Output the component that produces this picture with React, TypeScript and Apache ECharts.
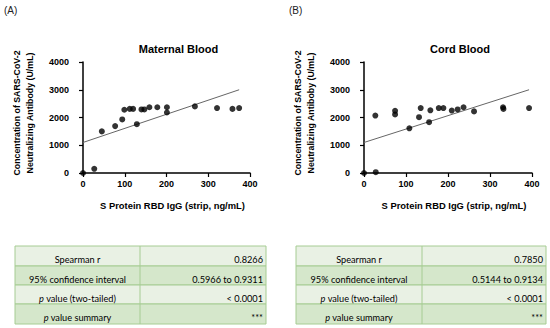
import React, { useEffect, useRef } from "react";
import * as echarts from "echarts";

const maternalX = [0, 27, 45, 77, 94, 99, 112, 120, 129, 140, 147, 159, 178, 201, 201, 268, 321, 358, 374];
const maternalY = [0, 150, 1500, 1690, 1930, 2280, 2310, 2310, 1760, 2290, 2290, 2370, 2370, 2370, 2180, 2400, 2340, 2310, 2340];
const cordX = [0, 28, 27, 74, 74, 108, 131, 135, 155, 158, 178, 189, 209, 223, 237, 262, 331, 332, 393];
const cordY = [0, 30, 2070, 2240, 2110, 1610, 2010, 2340, 1830, 2260, 2340, 2340, 2250, 2290, 2370, 2220, 2370, 2310, 2340];
const maternalFit = [[0, 1100], [374, 3000]];
const cordFit = [[0, 1100], [393, 3000]];

const xTicks = [0, 100, 200, 300, 400];
const yTicks = [0, 1000, 2000, 3000, 4000];

const rowLabels = ["Spearman r", "95% confidence interval", "{i|p} value (two-tailed)", "{i|p} value summary"];
const maternalStats = ["0.8266", "0.5966 to 0.9311", "< 0.0001", "***"];
const cordStats = ["0.7850", "0.5144 to 0.9134", "< 0.0001", "***"];

const panels = [
  { tag: "(A)", title: "Maternal Blood", yName2: "Neutralizing Antibody (U/mL)", xs: maternalX, ys: maternalY, fit: maternalFit, stats: maternalStats },
  { tag: "(B)", title: "Cord Blood", yName2: "Neutralizing Antiboby (U/mL)", xs: cordX, ys: cordY, fit: cordFit, stats: cordStats },
];

const AX = "'Liberation Sans', Arial, sans-serif";
const TB = "'Lato', 'Carlito', sans-serif";

export default function App() {
  const ref = useRef<HTMLDivElement>(null);
  useEffect(() => {
    if (!ref.current) return;
    const chart = echarts.init(ref.current, undefined, { renderer: "svg" });
    const gridLeft = [83, 364];
    const gridW = [167, 168];
    const tableLeft = [15, 296];
    const tableDiv = [140, 422];
    const tableRight = [266, 546];
    const rowB = [246, 266, 285, 304, 324];
    const graphic: any[] = [];
    panels.forEach((p, k) => {
      const gl = gridLeft[k];
      graphic.push({ type: "text", left: k === 0 ? 4 : 289, top: 5, style: { text: p.tag, font: `10px ${AX}`, fill: "#222" } });
      graphic.push({ type: "text", x: gl - 66, y: 113, rotation: Math.PI / 2, style: { text: "Concentration of SARS-CoV-2", font: `bold 8.8px ${AX}`, fill: "#000", align: "center", verticalAlign: "middle" } });
      graphic.push({ type: "text", x: gl - 53, y: 113, rotation: Math.PI / 2, style: { text: p.yName2, font: `bold 8.8px ${AX}`, fill: "#000", align: "center", verticalAlign: "middle" } });
      graphic.push({ type: "text", x: gl + gridW[k] / 2 + 6, y: 205, style: { text: "S Protein RBD IgG (strip, ng/mL)", font: `bold 9.4px ${AX}`, fill: "#000", align: "center", verticalAlign: "middle" } });
      // table
      for (let r = 0; r < 4; r++) {
        const fillC = r % 2 === 0 ? "#e9f1e4" : "#d5e7cb";
        graphic.push({ type: "rect", shape: { x: tableLeft[k], y: rowB[r], width: tableRight[k] - tableLeft[k], height: rowB[r + 1] - rowB[r] }, style: { fill: fillC, stroke: "#a6cc93", lineWidth: 1 } });
      }
      graphic.push({ type: "line", shape: { x1: tableDiv[k], y1: rowB[0], x2: tableDiv[k], y2: rowB[4] }, style: { stroke: "#a6cc93", lineWidth: 1 } });
      for (let r = 0; r < 4; r++) {
        const cy = (rowB[r] + rowB[r + 1]) / 2 + 3.5;
        graphic.push({ type: "text", x: (tableLeft[k] + tableDiv[k]) / 2, y: cy, style: { text: rowLabels[r], font: `9.2px ${TB}`, fill: "#000", align: "center", verticalAlign: "middle", rich: { i: { fontStyle: "italic", fontFamily: TB, fontSize: 9.2, fill: "#000" } } } });
        graphic.push({ type: "text", x: tableRight[k] - 3, y: cy, style: { text: p.stats[r], font: `9.2px ${TB}`, fill: "#000", align: "right", verticalAlign: "middle" } });
      }
    });

    const option: any = {
      animation: false,
      backgroundColor: "#fff",
      title: panels.map((p, k) => ({
        text: p.title,
        left: gridLeft[k] + gridW[k] / 2 + 7,
        top: 38,
        textAlign: "center",
        textStyle: { fontFamily: AX, fontWeight: "bold", fontSize: 11, color: "#000" },
      })),
      grid: panels.map((p, k) => ({ left: gridLeft[k], top: 62, width: gridW[k], height: 111 })),
      xAxis: panels.map((p, k) => ({
        gridIndex: k, type: "value", min: xTicks[0], max: xTicks[xTicks.length - 1], interval: 100,
        axisLine: { show: true, lineStyle: { color: "#000", width: 1.5 } },
        axisTick: { show: true, length: 4, lineStyle: { color: "#000", width: 1.2 } },
        axisLabel: { fontFamily: AX, fontWeight: "bold", fontSize: 9, color: "#000", margin: 6, formatter: (v: number) => String(v) },
        splitLine: { show: false },
      })),
      yAxis: panels.map((p, k) => ({
        gridIndex: k, type: "value", min: yTicks[0], max: yTicks[yTicks.length - 1], interval: 1000,
        axisLine: { show: true, lineStyle: { color: "#000", width: 1.5 } },
        axisTick: { show: true, length: 4, lineStyle: { color: "#000", width: 1.2 } },
        axisLabel: { fontFamily: AX, fontWeight: "bold", fontSize: 9, color: "#000", margin: 14, formatter: (v: number) => String(v) },
        splitLine: { show: false },
      })),
      series: panels.flatMap((p, k) => [
        {
          type: "line", xAxisIndex: k, yAxisIndex: k, data: p.fit, symbol: "none",
          lineStyle: { color: "#666", width: 1 }, silent: true, z: 2,
        },
        {
          type: "scatter", xAxisIndex: k, yAxisIndex: k, clip: false,
          data: p.xs.map((x, i) => [x, p.ys[i]]),
          symbol: "circle", symbolSize: 6, itemStyle: { color: "#000" }, z: 3,
        },
      ]),
      graphic,
    };
    chart.setOption(option);
    return () => chart.dispose();
  }, []);
  return <div ref={ref} style={{ position: "absolute", left: 0, top: 0, width: 550, height: 328 }} />;
}
